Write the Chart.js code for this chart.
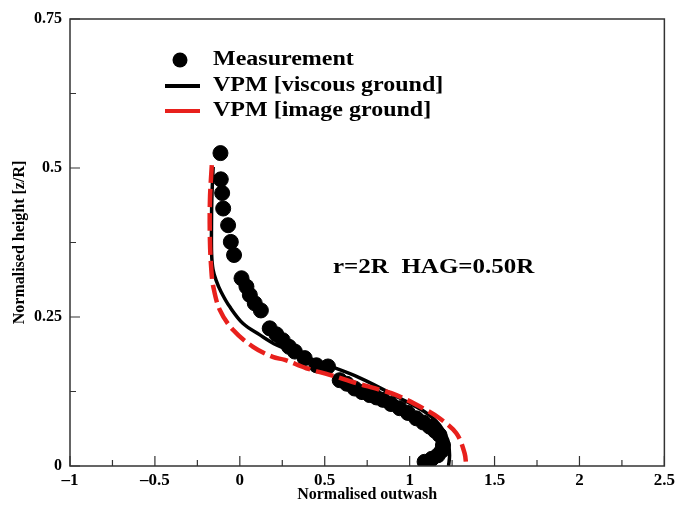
<!DOCTYPE html>
<html><head><meta charset="utf-8">
<script src="https://cdn.jsdelivr.net/npm/chart.js@4/dist/chart.umd.min.js"></script>
<style>html,body{margin:0;padding:0;background:#fff}#wrap{width:679px;height:507px}</style>
</head><body><div id="wrap"><canvas id="c" width="679" height="507"></canvas></div>
<script>
const xTickValues = [-1, -0.5, 0, 0.5, 1, 1.5, 2, 2.5];
const yTickValues = [0, 0.25, 0.5, 0.75];
const xMinorValues = [-0.75, -0.25, 0.25, 0.75, 1.25, 1.75, 2.25];
const yMinorValues = [0.125, 0.375, 0.625];

const measX = [-0.114,-0.112,-0.104,-0.098,-0.069,-0.053,-0.034,0.010,0.039,0.059,0.088,0.124,0.176,0.215,0.253,0.290,0.324,0.382,0.451,0.519,0.588,0.630,0.676,0.720,0.765,0.805,0.843,0.890,0.941,0.990,1.039,1.080,1.118,1.150,1.176,1.196,1.190,1.166,1.130,1.088];
const measY = [0.525,0.481,0.458,0.432,0.404,0.376,0.354,0.315,0.301,0.287,0.273,0.261,0.231,0.221,0.211,0.200,0.192,0.181,0.169,0.167,0.144,0.138,0.130,0.124,0.119,0.115,0.111,0.104,0.097,0.089,0.080,0.073,0.066,0.059,0.052,0.035,0.026,0.018,0.012,0.007];

const viscX = [-0.157,-0.165,-0.167,-0.166,-0.158,-0.140,-0.110,-0.059,0.019,0.118,0.216,0.334,0.470,0.706,0.941,1.088,1.176,1.224,1.235,1.229];
const viscY = [0.502,0.446,0.390,0.355,0.330,0.312,0.292,0.267,0.239,0.220,0.203,0.189,0.174,0.148,0.114,0.091,0.069,0.044,0.018,0.000];

const imgX = [-0.165,-0.176,-0.176,-0.168,-0.157,-0.118,-0.039,0.078,0.194,0.265,0.392,0.529,0.686,0.824,0.922,1.078,1.176,1.275,1.324,1.333];
const imgY = [0.505,0.446,0.379,0.330,0.302,0.262,0.228,0.200,0.183,0.178,0.164,0.153,0.139,0.128,0.119,0.097,0.080,0.055,0.021,0.000];

const legendLabels = ['Measurement', 'VPM [viscous ground]', 'VPM [image ground]'];
const annotationText = 'r=2R  HAG=0.50R';
const xTitle = 'Normalised outwash';
const yTitle = 'Normalised height [z/R]';

const RED = '#e8201c';
const SERIF = '"Liberation Serif", "DejaVu Serif", serif';

function pts(xs, ys){ return xs.map((x,i)=>({x:x, y:ys[i]})); }
function fmt(v){ const s = String(v); return v < 0 ? '\u2013' + s.slice(1) : s; }

const framePlugin = {
  id: 'frame',
  afterDraw(chart){
    const ctx = chart.ctx, a = chart.chartArea;
    const xs = chart.scales.x, ys = chart.scales.y;
    ctx.save();
    ctx.strokeStyle = '#333';
    ctx.lineWidth = 1.5;
    ctx.strokeRect(a.left, a.top, a.right - a.left, a.bottom - a.top);
    ctx.lineWidth = 1.2;
    ctx.beginPath();
    xTickValues.forEach(v=>{ const p = xs.getPixelForValue(v); ctx.moveTo(p, a.bottom); ctx.lineTo(p, a.bottom - 10); });
    xMinorValues.forEach(v=>{ const p = xs.getPixelForValue(v); ctx.moveTo(p, a.bottom); ctx.lineTo(p, a.bottom - 6); });
    yTickValues.forEach(v=>{ const p = ys.getPixelForValue(v); ctx.moveTo(a.left, p); ctx.lineTo(a.left + 10, p); });
    yMinorValues.forEach(v=>{ const p = ys.getPixelForValue(v); ctx.moveTo(a.left, p); ctx.lineTo(a.left + 6, p); });
    ctx.stroke();

    // legend
    const lx = a.left + 95;
    const tx = a.left + 143;
    const rows = [60, 86, 111];
    ctx.fillStyle = '#000';
    ctx.beginPath(); ctx.arc(lx + 15, rows[0], 7.5, 0, Math.PI*2); ctx.fill();
    ctx.lineWidth = 4;
    ctx.strokeStyle = '#000';
    ctx.beginPath(); ctx.moveTo(lx, rows[1]); ctx.lineTo(lx + 35, rows[1]); ctx.stroke();
    ctx.strokeStyle = RED;
    ctx.beginPath(); ctx.moveTo(lx, rows[2]); ctx.lineTo(lx + 35, rows[2]); ctx.stroke();
    ctx.font = 'bold 20px ' + SERIF;
    ctx.textBaseline = 'middle';
    ctx.textAlign = 'left';
    legendLabels.forEach((t,i)=>{
      ctx.save(); ctx.translate(tx, rows[i]); ctx.scale(1.2, 1); ctx.fillText(t, 0, 0); ctx.restore();
    });
    ctx.save(); ctx.translate(a.left + 263, 268); ctx.scale(1.25, 1); ctx.fillText(annotationText, 0, 0); ctx.restore();
    ctx.restore();
  }
};

new Chart(document.getElementById('c'), {
  type: 'scatter',
  data: {
    datasets: [
      { label: legendLabels[1], data: pts(viscX, viscY), showLine: true, borderColor: '#000', borderWidth: 3.5,
        pointRadius: 0, tension: 0.35, order: 3 },
      { label: legendLabels[0], data: pts(measX, measY), backgroundColor: '#000', borderColor: '#000',
        pointRadius: 7.5, pointHoverRadius: 7.5, order: 2 },
      { label: legendLabels[2], data: pts(imgX, imgY), showLine: true, borderColor: RED, borderWidth: 4.5,
        borderDash: [18, 6], pointRadius: 0, tension: 0.35, order: 1 }
    ]
  },
  options: {
    responsive: false,
    animation: false,
    layout: { padding: { left: 0, right: 14, top: 19, bottom: 0 } },
    plugins: { legend: { display: false }, tooltip: { enabled: false } },
    scales: {
      x: {
        type: 'linear', min: -1, max: 2.5,
        grid: { display: false, drawTicks: false, tickLength: 0 }, border: { display: false },
        afterBuildTicks: s => { s.ticks = xTickValues.map(v=>({value:v})); },
        afterFit: s => { s.height = 41; },
        ticks: { color: '#000', padding: 4, maxRotation: 0, autoSkip: false,
          font: { family: SERIF, size: 17, weight: 'bold' }, callback: v => fmt(v) },
        title: { display: true, text: xTitle, color: '#000', padding: { top: 0, bottom: 3 },
          font: { family: SERIF, size: 16, weight: 'bold' } }
      },
      y: {
        type: 'linear', min: 0, max: 0.75,
        grid: { display: false, drawTicks: false, tickLength: 0 }, border: { display: false },
        afterBuildTicks: s => { s.ticks = yTickValues.map(v=>({value:v})); },
        afterFit: s => { s.width = 70; },
        ticks: { color: '#000', padding: 8, autoSkip: false,
          font: { family: SERIF, size: 16, weight: 'bold' }, callback: v => fmt(v) },
        title: { display: true, text: yTitle, color: '#000', padding: { top: 10, bottom: 0 },
          font: { family: SERIF, size: 16, weight: 'bold' } }
      }
    }
  },
  plugins: [framePlugin]
});
</script>
</body></html>
